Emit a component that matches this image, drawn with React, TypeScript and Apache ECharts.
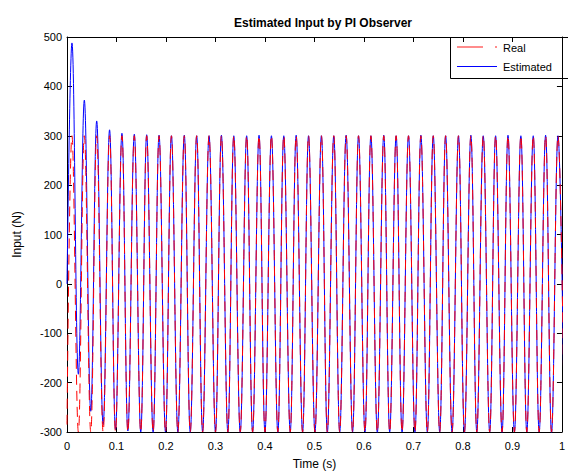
import React, { useEffect, useRef } from 'react';
import * as echarts from 'echarts';

// Time (s) of each positive and negative extremum
const peakTimes = [
  0.010, 0.035, 0.060, 0.086, 0.111, 0.136, 0.161, 0.186, 0.211, 0.237,
  0.262, 0.287, 0.312, 0.337, 0.363, 0.388, 0.413, 0.438, 0.463, 0.488,
  0.514, 0.539, 0.564, 0.589, 0.614, 0.640, 0.665, 0.690, 0.715, 0.740,
  0.765, 0.791, 0.816, 0.841, 0.866, 0.891, 0.917, 0.942, 0.967, 0.992,
];
const troughTimes = [
  0.023, 0.048, 0.073, 0.098, 0.123, 0.149, 0.174, 0.199, 0.224, 0.249,
  0.274, 0.300, 0.325, 0.350, 0.375, 0.400, 0.426, 0.451, 0.476, 0.501,
  0.526, 0.551, 0.577, 0.602, 0.627, 0.652, 0.677, 0.703, 0.728, 0.753,
  0.778, 0.803, 0.828, 0.854, 0.879, 0.904, 0.929, 0.954, 0.979, 1.005,
];

// Estimated input (N)
const estimatedStart = 0;
const estimatedPeaks = [
  488, 372, 330, 312, 305, 303, 302, 301, 300, 301,
  300, 300, 301, 300, 300, 301, 300, 300, 301, 300,
  300, 300, 301, 300, 300, 301, 300, 300, 301, 300,
  300, 300, 301, 300, 300, 301, 300, 300, 301, 300,
];
const estimatedTroughs = [
  -183, -258, -285, -295, -298, -300, -301, -300, -300, -301,
  -300, -300, -300, -301, -300, -300, -301, -300, -300, -300,
  -301, -300, -300, -300, -301, -300, -300, -301, -300, -300,
  -300, -301, -300, -300, -301, -300, -300, -300, -301, -300,
];

// Real input (N)
const realStart = -285;
const realPeaks = [
  300, 300, 300, 300, 300, 300, 300, 300, 300, 300,
  300, 300, 300, 300, 300, 300, 300, 300, 300, 300,
  300, 300, 300, 300, 300, 300, 300, 300, 300, 300,
  300, 300, 300, 300, 300, 300, 300, 300, 300, 300,
];
const realTroughs = [
  -300, -300, -300, -300, -300, -300, -300, -300, -300, -300,
  -300, -300, -300, -300, -300, -300, -300, -300, -300, -300,
  -300, -300, -300, -300, -300, -300, -300, -300, -300, -300,
  -300, -300, -300, -300, -300, -300, -300, -300, -300, -300,
];

const seriesNames = ['Real', 'Estimated'];
const xTicks = [0, 0.1, 0.2, 0.3, 0.4, 0.5, 0.6, 0.7, 0.8, 0.9, 1];
const yTicks = [-300, -200, -100, 0, 100, 200, 300, 400, 500];

function buildSeries(start: number, peaks: number[], troughs: number[]) {
  const out: [number, number][] = [[0, start]];
  for (let i = 0; i < peakTimes.length; i++) {
    out.push([peakTimes[i], peaks[i]]);
    out.push([troughTimes[i], troughs[i]]);
  }
  return out;
}

const FONT = '"Liberation Sans", Arial, Helvetica, sans-serif';
const RED = '#ff0000';
const BLUE = '#0000ff';

export default function App() {
  const ref = useRef<HTMLDivElement>(null);
  useEffect(() => {
    document.body.style.margin = '0';
    const chart = echarts.init(ref.current!, null, { renderer: 'svg' });
    const axisCommon = {
      axisLine: { show: true, onZero: false, lineStyle: { color: '#000', width: 1 } },
      axisTick: { show: true, inside: true, length: 5, lineStyle: { color: '#000' } },
      splitLine: { show: false },
    };
    const fmtX = (v: number) => String(parseFloat(v.toFixed(1)));
    const legendFont = `11px ${FONT}`;
    chart.setOption({
      animation: false,
      backgroundColor: '#fff',
      textStyle: { fontFamily: FONT },
      title: {
        text: 'Estimated Input by PI Observer',
        left: 318,
        top: 12,
        textAlign: 'center',
        textStyle: { fontFamily: FONT, fontSize: 12, fontWeight: 'bold', color: '#000' },
      },
      grid: { left: 67, top: 37, width: 502, height: 395, containLabel: false },
      graphic: [
        {
          type: 'group',
          z: 100,
          children: [
            {
              type: 'rect',
              shape: { x: 450.5, y: 37.5, width: 130, height: 41 },
              style: { fill: '#fff', stroke: '#000', lineWidth: 1 },
            },
            {
              type: 'line',
              shape: { x1: 457, y1: 47, x2: 497, y2: 47 },
              style: { stroke: RED, lineWidth: 1.2, lineDash: [26, 12], opacity: 0.9 },
            },
            {
              type: 'text',
              x: 503,
              y: 47.5,
              style: { text: seriesNames[0], font: legendFont, fill: '#000', verticalAlign: 'middle' },
            },
            {
              type: 'line',
              shape: { x1: 457, y1: 66.5, x2: 497, y2: 66.5 },
              style: { stroke: BLUE, lineWidth: 1 },
            },
            {
              type: 'text',
              x: 503,
              y: 66.5,
              style: { text: seriesNames[1], font: legendFont, fill: '#000', verticalAlign: 'middle' },
            },
          ],
        },
      ],
      xAxis: [
        {
          type: 'value',
          min: xTicks[0],
          max: xTicks[xTicks.length - 1],
          interval: 0.1,
          position: 'bottom',
          name: 'Time (s)',
          nameLocation: 'middle',
          nameGap: 26,
          nameTextStyle: { fontFamily: FONT, fontSize: 12, color: '#000' },
          axisLabel: { fontFamily: FONT, fontSize: 11, color: '#000', margin: 8, formatter: fmtX },
          ...axisCommon,
        },
        {
          type: 'value',
          min: xTicks[0],
          max: xTicks[xTicks.length - 1],
          interval: 0.1,
          position: 'top',
          axisLabel: { show: false },
          ...axisCommon,
        },
      ],
      yAxis: [
        {
          type: 'value',
          min: yTicks[0],
          max: yTicks[yTicks.length - 1],
          interval: 100,
          position: 'left',
          name: 'Input (N)',
          nameLocation: 'middle',
          nameGap: 44,
          nameTextStyle: { fontFamily: FONT, fontSize: 12, color: '#000' },
          axisLabel: { fontFamily: FONT, fontSize: 11, color: '#000', margin: 5 },
          ...axisCommon,
        },
        {
          type: 'value',
          min: yTicks[0],
          max: yTicks[yTicks.length - 1],
          interval: 100,
          position: 'right',
          axisLabel: { show: false },
          ...axisCommon,
        },
      ],
      series: [
        {
          name: seriesNames[0],
          type: 'line',
          data: buildSeries(realStart, realPeaks, realTroughs),
          symbol: 'none',
          showSymbol: false,
          smooth: 0.4,
          clip: true,
          z: 3,
          itemStyle: { color: RED },
          lineStyle: { color: RED, width: 1, type: [10, 6] },
        },
        {
          name: seriesNames[1],
          type: 'line',
          data: buildSeries(estimatedStart, estimatedPeaks, estimatedTroughs),
          symbol: 'none',
          showSymbol: false,
          smooth: 0.4,
          clip: true,
          z: 2,
          itemStyle: { color: BLUE },
          lineStyle: { color: BLUE, width: 1 },
        },
      ],
    });
    return () => chart.dispose();
  }, []);
  return <div ref={ref} style={{ width: 568, height: 475, background: '#fff' }} />;
}
